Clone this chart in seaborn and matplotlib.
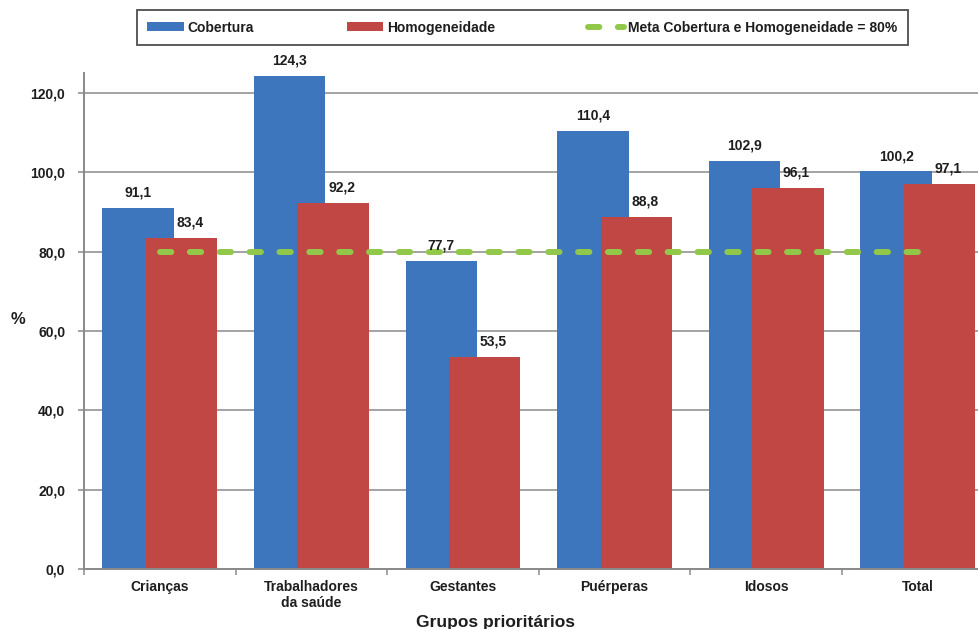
import numpy as np
import pandas as pd
import matplotlib
matplotlib.use("Agg")
import matplotlib.pyplot as plt
from matplotlib.lines import Line2D
from matplotlib.patches import Patch
import seaborn as sns

# Vaccination coverage and homogeneity by priority group
categorias = ["Crianças", "Trabalhadores\nda saúde", "Gestantes", "Puérperas", "Idosos", "Total"]
cobertura = [91.1, 124.3, 77.7, 110.4, 102.9, 100.2]
homogeneidade = [83.4, 92.2, 53.5, 88.8, 96.1, 97.1]
meta = [80, 80, 80, 80, 80, 80]
y_ticks = [0, 20, 40, 60, 80, 100, 120]

COR_COB = "#3D76BC"
COR_HOM = "#C04744"
COR_META = "#92C84A"
CINZA = "#8A8A8A"
TEXTO = "#1E1E1E"

sns.set_theme(style="white")
plt.rcParams["font.family"] = ["Liberation Sans", "DejaVu Sans"]
plt.rcParams["font.weight"] = "bold"

W, H = 979, 629
fig = plt.figure(figsize=(W / 100, H / 100), dpi=100)
ax_left, ax_bottom, ax_right, ax_top = 84, 569, 993.6, 73
ax = fig.add_axes([ax_left / W, (H - ax_bottom) / H,
                   (ax_right - ax_left) / W, (ax_bottom - ax_top) / H])

idx = np.arange(len(categorias))
desloc = 0.143
largura = 0.47

df_cob = pd.DataFrame({"x": idx - desloc, "v": cobertura})
df_hom = pd.DataFrame({"x": idx + desloc, "v": homogeneidade})

sns.barplot(data=df_cob, x="x", y="v", native_scale=True, width=largura,
            color=COR_COB, saturation=1, errorbar=None, ax=ax, zorder=2,
            linewidth=0)
sns.barplot(data=df_hom, x="x", y="v", native_scale=True, width=largura,
            color=COR_HOM, saturation=1, errorbar=None, ax=ax, zorder=3,
            linewidth=0)

# target line at 80 %
df_meta = pd.DataFrame({"x": idx, "v": meta})
sns.lineplot(data=df_meta, x="x", y="v", ax=ax, color=COR_META, lw=4.3,
             zorder=5, dashes=False)
linha = ax.get_lines()[-1]
linha.set_dashes((1.9, 3.1))
linha.set_dash_capstyle("round")

def fmt(v):
    return f"{v:.1f}".replace(".", ",")

for i, (c, h) in enumerate(zip(cobertura, homogeneidade)):
    ax.annotate(fmt(c), (i - desloc, c), xytext=(0, 6), textcoords="offset points",
                ha="center", va="bottom", fontsize=10, fontweight="bold",
                color=TEXTO, zorder=6)
    ax.annotate(fmt(h), (i - desloc + largura / 2, h), xytext=(2, 6),
                textcoords="offset points", ha="left", va="bottom",
                fontsize=10, fontweight="bold", color=TEXTO, zorder=6)

ax.set_xlim(-0.5, len(categorias) - 0.5)
ax.set_ylim(0, 125)
ax.set_yticks(y_ticks)
ax.set_yticklabels([fmt(t) for t in y_ticks], fontsize=10, fontweight="bold", color=TEXTO)
ax.set_xticks(idx)
ax.set_xticklabels(categorias, fontsize=10, fontweight="bold", color=TEXTO)
ax.set_xticks(np.arange(-0.5, len(categorias), 1.0), minor=True)

ax.yaxis.grid(True, color=CINZA, lw=1.1, zorder=0)
ax.set_axisbelow(True)
ax.xaxis.grid(False)

for s in ["top", "right"]:
    ax.spines[s].set_visible(False)
for s in ["left", "bottom"]:
    ax.spines[s].set_color(CINZA)
    ax.spines[s].set_linewidth(1.4)
    ax.spines[s].set_zorder(4)

ax.tick_params(axis="y", which="major", direction="out", length=4.5, width=1.1,
               color=CINZA, pad=9, left=True)
ax.tick_params(axis="x", which="major", length=0, pad=8)
ax.tick_params(axis="x", which="minor", direction="out", length=4, width=1.1,
               color=CINZA, bottom=True)

ax.set_xlabel("Grupos prioritários", fontsize=12.5, fontweight="bold", color=TEXTO, va="top")
ax.xaxis.set_label_coords((495 - ax_left) / (ax_right - ax_left),
                          -(615 - ax_bottom) / (ax_bottom - ax_top))
ax.set_ylabel("%", fontsize=12, fontweight="bold", color=TEXTO, rotation=0,
              va="center", ha="center")
ax.yaxis.set_label_coords((18 - ax_left) / (ax_right - ax_left),
                          (ax_bottom - 320) / (ax_bottom - ax_top))

handles = [
    Patch(facecolor=COR_COB, edgecolor="none"),
    Patch(facecolor=COR_HOM, edgecolor="none"),
    Line2D([0], [0], color=COR_META, lw=4.3, dashes=(1.9, 3.1), dash_capstyle="round"),
]
labels = ["Cobertura", "Homogeneidade", "Meta Cobertura e Homogeneidade = 80%"]
leg = fig.legend(handles, labels, loc="lower left", mode="expand", ncol=3,
                 bbox_to_anchor=(137 / W, (H - 45) / H, (908 - 137) / W, 35 / H),
                 frameon=True, fancybox=False, edgecolor="#222222",
                 prop={"size": 10, "weight": "bold"}, handlelength=2.6,
                 handleheight=0.55, handletextpad=0.3, borderpad=0.75,
                 borderaxespad=0)
leg.get_frame().set_linewidth(1.3)
for t in leg.get_texts():
    t.set_color(TEXTO)

fig.savefig("out.png", dpi=100)
